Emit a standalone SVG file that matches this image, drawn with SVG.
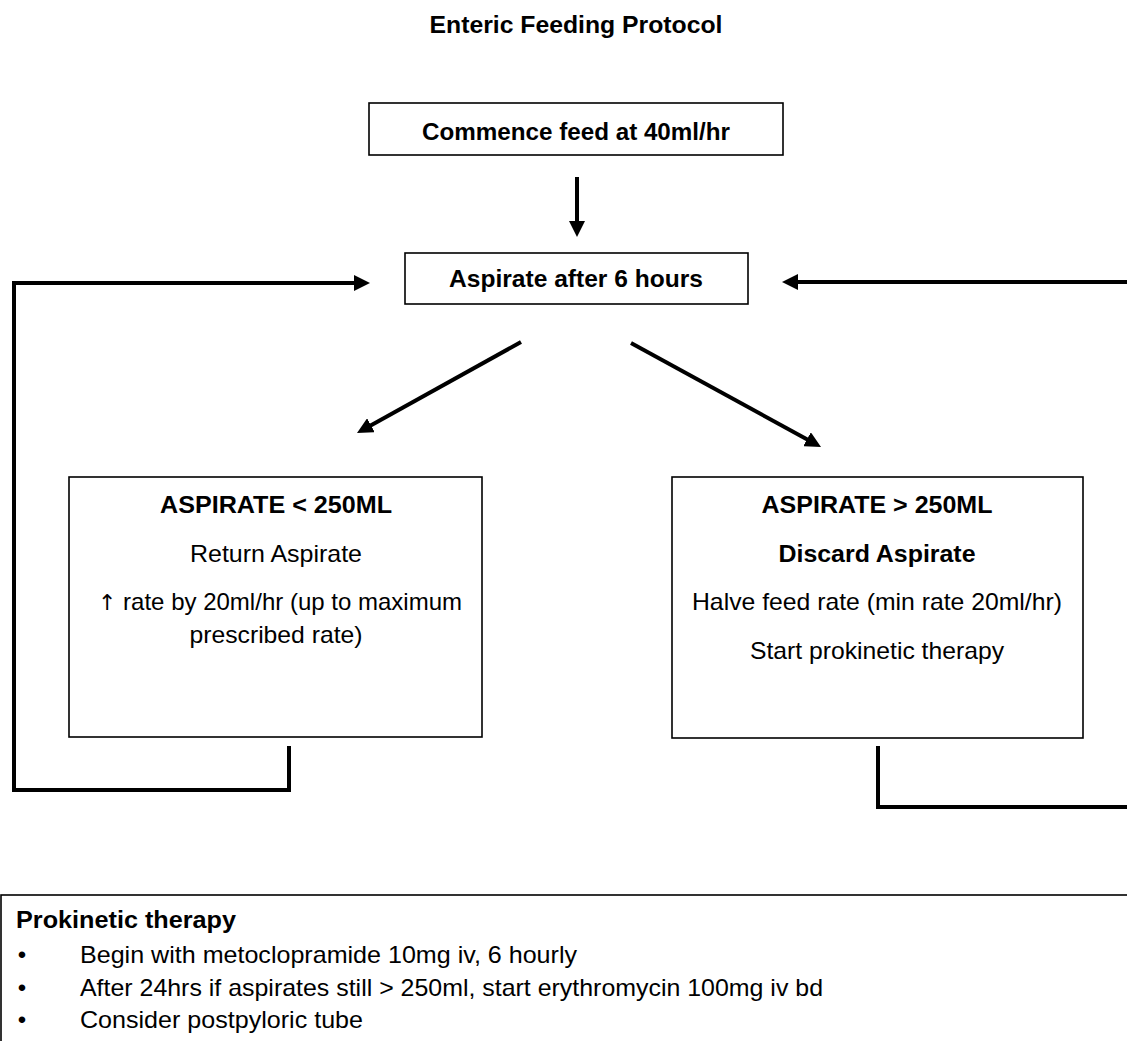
<svg xmlns="http://www.w3.org/2000/svg" width="1127" height="1041" viewBox="0 0 1127 1041">
<style>
text{font-family:"Liberation Sans",Arial,sans-serif;font-size:24px;fill:#000}
.b{font-weight:bold}
.c{text-anchor:middle}
.ar{font-family:"DejaVu Sans",sans-serif;font-size:22px}
.box{fill:#fff;stroke:#000;stroke-width:1.6}
.con{fill:none;stroke:#000;stroke-width:4;stroke-linejoin:miter}
</style>
<defs>
<marker id="ah" markerUnits="userSpaceOnUse" markerWidth="16" markerHeight="16" refX="4" refY="8" orient="auto">
<path d="M0,0 L16,8 L0,16 z" fill="#000"/>
</marker>
</defs>
<rect width="1127" height="1041" fill="#fff"/>
<text class="b c" x="576" y="33" textLength="293" lengthAdjust="spacingAndGlyphs">Enteric Feeding Protocol</text>

<g id="connectors">
<path class="con" d="M577,177 L577,225" marker-end="url(#ah)"/>
<path class="con" d="M289,746 L289,790 L14,790 L14,283 L358,283" marker-end="url(#ah)"/>
<path class="con" d="M878,746 L878,807 L1140,807 L1140,282 L794,282" marker-end="url(#ah)"/>
<path class="con" d="M521,342 L367.5,427.2" marker-end="url(#ah)"/>
<path class="con" d="M631,343 L810.5,441.2" marker-end="url(#ah)"/>
</g>

<g id="commence">
<rect class="box" x="369" y="103" width="414" height="52"/>
<text class="b c" x="576" y="140" textLength="308" lengthAdjust="spacingAndGlyphs">Commence feed at 40ml/hr</text>
</g>

<g id="aspirate6">
<rect class="box" x="405" y="253" width="343" height="51"/>
<text class="b c" x="576" y="287" textLength="254" lengthAdjust="spacingAndGlyphs">Aspirate after 6 hours</text>
</g>

<g id="less250">
<rect class="box" x="69" y="477" width="413" height="260"/>
<text class="b c" x="276" y="513" textLength="232" lengthAdjust="spacingAndGlyphs">ASPIRATE &lt; 250ML</text>
<text class="c" x="276" y="562" textLength="172" lengthAdjust="spacingAndGlyphs">Return Aspirate</text>
<text class="c" x="280" y="610" textLength="364" lengthAdjust="spacingAndGlyphs"><tspan class="ar">↑</tspan> rate by 20ml/hr (up to maximum</text>
<text class="c" x="276" y="643" textLength="173" lengthAdjust="spacingAndGlyphs">prescribed rate)</text>
</g>

<g id="more250">
<rect class="box" x="672" y="477" width="411" height="261"/>
<text class="b c" x="877" y="513" textLength="231" lengthAdjust="spacingAndGlyphs">ASPIRATE &gt; 250ML</text>
<text class="b c" x="877" y="562" textLength="197" lengthAdjust="spacingAndGlyphs">Discard Aspirate</text>
<text class="c" x="877" y="610" textLength="370" lengthAdjust="spacingAndGlyphs">Halve feed rate (min rate 20ml/hr)</text>
<text class="c" x="877" y="659" textLength="254" lengthAdjust="spacingAndGlyphs">Start prokinetic therapy</text>
</g>

<g id="prokinetic">
<rect class="box" x="1" y="895" width="1140" height="200"/>
<text class="b" x="16" y="928" textLength="220" lengthAdjust="spacingAndGlyphs">Prokinetic therapy</text>
<text class="c" x="22" y="963">•</text>
<text x="80" y="963" textLength="497" lengthAdjust="spacingAndGlyphs">Begin with metoclopramide 10mg iv, 6 hourly</text>
<text class="c" x="22" y="996">•</text>
<text x="80" y="996" textLength="743" lengthAdjust="spacingAndGlyphs">After 24hrs if aspirates still &gt; 250ml, start erythromycin 100mg iv bd</text>
<text class="c" x="22" y="1028">•</text>
<text x="80" y="1028" textLength="283" lengthAdjust="spacingAndGlyphs">Consider postpyloric tube</text>
</g>
</svg>
